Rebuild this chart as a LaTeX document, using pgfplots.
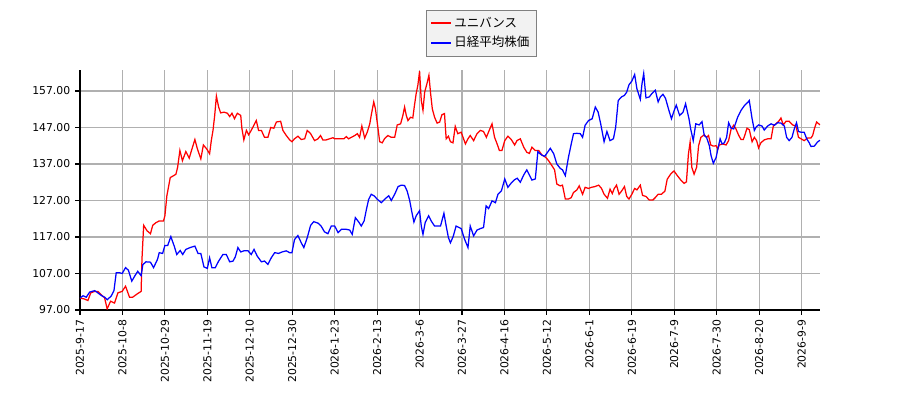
\documentclass[border=0pt]{standalone}
\usepackage{fontspec}
\setmainfont{DejaVu Sans}
\newfontfamily\jp{Noto Sans CJK JP}
\usepackage{pgfplots}
\pgfplotsset{compat=1.18}
\definecolor{gridgray}{HTML}{B0B0B0}
\definecolor{legfill}{HTML}{F2F2F2}
\definecolor{legdraw}{HTML}{808080}

\begin{document}
\begin{tikzpicture}
% 1px = 0.72pt, picture 900x400 px
\path[use as bounding box] (-57.6pt,-64.8pt) rectangle (590.4pt,223.2pt);
\begin{axis}[
  at={(0pt,0pt)}, anchor=south west, scale only axis,
  width=532.8pt, height=172.8pt,
  xmin=0, xmax=261.5, ymin=97, ymax=162.75,
  axis x line*=bottom, axis y line*=left,
  xtick={0,15,...,255},
  xticklabels={2025-9-17,2025-10-8,2025-10-29,2025-11-19,2025-12-10,2025-12-30,2026-1-23,2026-2-13,2026-3-6,2026-3-27,2026-4-16,2026-5-12,2026-6-1,2026-6-19,2026-7-9,2026-7-30,2026-8-20,2026-9-9},
  xticklabel style={rotate=90, anchor=east},
  ytick={97,107,...,157},
  yticklabel style={/pgf/number format/.cd, fixed, fixed zerofill, precision=2},
  /pgf/number format/assume math mode=true,
  tick label style={font=\fontsize{7.8}{9}\selectfont},
  tick align=outside, major tick length=3.5pt,
  tick style={black, line width=0.8pt},
  axis line style={line width=0.8pt},
  grid=major, major grid style={gridgray, line width=0.8pt},
  legend style={at={(0.542,1.058)}, anchor=south, draw=legdraw, fill=legfill,
    font=\fontsize{9}{11}\selectfont, row sep=1pt, inner sep=3pt},
  legend cell align=left,
  legend image code/.code={\draw[#1, line width=1.5pt] (0pt,0pt) -- (14pt,0pt);},
]
\addplot[red, line width=0.9pt] coordinates {
(0,100.3) (1.6,100.0) (2.8,99.6) (3.8,101.7) (5.2,102.1) (6.3,102.1) (7.5,101.2) (8.7,100.3) (9.6,97.3) (10.8,99.4) (12.2,98.9) (13.4,101.7) (14.9,102.1) (16.1,103.5) (17.5,100.5) (18.6,100.5) (20.2,101.4) (21.6,102.1) (21.9,110.9) (22.5,120.2) (23.7,118.7) (24.9,117.9) (25.7,120.2) (26.8,120.9) (28.0,121.4) (29.5,121.4) (30.0,122.8) (30.7,128.3) (31.9,133.3) (33.1,133.8) (33.9,134.2) (34.5,136.1) (35.3,140.7) (36.2,137.9) (37.4,140.4) (38.6,138.6) (39.4,140.7) (40.6,143.7) (41.5,141.1) (42.7,138.4) (43.6,142.2) (44.8,141.1) (45.8,139.8) (46.4,143.4) (47.0,146.2) (47.6,150.3) (48.2,155.6) (48.5,154.4) (49.0,152.6) (49.7,151.0) (50.9,151.2) (52.1,150.9) (52.9,150.0) (53.7,150.9) (54.6,149.4) (55.6,150.9) (56.8,150.3) (57.2,146.8) (57.9,143.6) (58.8,146.2) (59.6,145.0) (60.5,146.2) (61.5,147.7) (62.3,148.9) (63.1,146.2) (64.1,146.2) (65.2,144.3) (66.4,144.3) (67.4,147.0) (68.5,146.8) (69.4,148.5) (70.9,148.7) (71.7,146.2) (72.9,144.8) (74.1,143.6) (74.9,143.1) (75.8,143.9) (77.0,144.6) (78.2,143.7) (79.4,143.9) (80.3,146.2) (81.5,145.3) (82.9,143.4) (84.1,143.9) (85.0,144.8) (85.8,143.6) (87.0,143.6) (88.2,143.9) (89.4,144.2) (90,143.9) (91.8,143.9) (93.3,143.9) (94.1,144.5) (94.9,143.9) (95.9,144.3) (97.1,144.8) (98.0,145.3) (98.8,144.3) (99.6,147.4) (100.6,144.1) (101.5,145.7) (102.4,148.0) (102.9,150.3) (103.8,154.0) (104.4,152.1) (105.1,148.0) (105.9,143.1) (106.8,142.8) (107.6,143.9) (108.8,144.8) (110.0,144.3) (111.2,144.3) (112.1,147.7) (113.3,148.0) (114.1,150.3) (114.7,152.6) (115.3,150.3) (115.9,148.9) (116.8,149.8) (117.6,149.6) (118.2,153.1) (118.8,156.3) (119.4,158.6) (120.0,162.4) (120.6,154.4) (121.2,151.7) (121.8,156.7) (122.6,159.0) (123.3,161.3) (123.9,156.3) (124.5,152.1) (125.3,149.8) (126.2,148.2) (127.1,148.5) (127.9,150.5) (128.8,150.8) (129.4,143.9) (130.2,144.6) (130.9,143.1) (131.8,142.8) (132.6,147.3) (133.5,145.3) (134.7,145.7) (136.2,142.5) (137.1,143.9) (137.9,144.8) (139.1,143.4) (140.3,145.3) (141.5,146.2) (142.6,145.9) (143.6,144.3) (144.6,146.2) (145.6,148.0) (146.5,144.3) (147.4,142.5) (148.2,140.7) (149.1,140.7) (150.1,143.4) (151.2,144.6) (152.4,143.7) (153.6,142.2) (154.4,143.4) (155.6,143.9) (156.8,141.6) (157.9,140.2) (158.8,139.9) (159.7,141.6) (160.9,140.7) (162.1,140.7) (163.2,139.5) (164.6,138.8) (165.6,137.9) (166.8,136.5) (167.7,135.4) (168.5,131.5) (169.7,131.0) (170.5,131.2) (171.5,127.4) (172.6,127.4) (173.6,127.8) (174.4,129.2) (175.6,129.9) (176.4,131.0) (177.6,128.7) (178.5,130.6) (179.7,130.3) (180.7,130.6) (181.9,130.8) (183.3,131.2) (184.3,130.3) (185.2,128.7) (186.4,127.6) (187.3,130.1) (188.1,128.9) (188.8,130.3) (189.6,131.2) (190.5,128.7) (191.4,129.6) (192.4,130.8) (193.2,128.1) (194.0,127.4) (195.0,128.7) (196.0,130.3) (196.8,129.9) (198.0,131.2) (198.8,128.4) (200.0,128.1) (201.2,127.1) (202.4,127.1) (203.3,127.8) (204.3,128.7) (205.5,128.7) (206.7,129.6) (207.5,132.8) (208.7,134.2) (209.9,135.1) (211.1,133.8) (212.3,132.6) (213.5,131.7) (214.3,132.1) (215.0,139.7) (215.6,143.0) (216.2,136.1) (217.0,134.2) (217.9,136.1) (218.6,142.0) (219.4,144.3) (220.6,145.0) (221.4,144.3) (222.1,144.8) (222.9,142.2) (223.8,141.9) (224.8,142.0) (225.4,141.1) (225.9,142.2) (227.1,142.5) (228.3,142.2) (229.2,143.4) (230.1,146.6) (231.0,147.6) (231.8,146.6) (232.8,144.8) (233.6,143.7) (234.4,143.7) (235.1,145.3) (235.7,146.8) (236.5,146.4) (237.5,143.1) (238.3,144.3) (239.1,143.4) (239.8,141.4) (240.6,142.8) (241.8,143.6) (243.0,143.9) (244.2,143.9) (245.0,147.4) (245.9,148.0) (246.9,148.7) (247.7,149.6) (248.5,147.7) (249.5,148.7) (250.6,148.7) (251.8,147.7) (253.0,147.4) (253.9,144.3) (254.8,143.9) (255.9,143.4) (257.1,144.1) (258.3,144.1) (258.9,144.8) (259.5,146.6) (260.3,148.5) (261.5,147.7)
};
\addlegendentry{\jp ユニバンス}
\addplot[blue, line width=0.9pt] coordinates {
(0,100.3) (1.1,100.9) (2.2,100.5) (3.4,101.9) (5.2,102.3) (6.3,101.7) (7.5,101.0) (8.7,100.5) (9.6,99.8) (11.0,100.8) (12.0,102.3) (12.8,107.2) (14.0,107.2) (14.9,107.0) (16.1,108.6) (17.1,107.9) (18.3,104.9) (19.5,106.5) (20.4,107.6) (21.6,106.4) (22.2,109.4) (23.3,110.2) (24.9,110.1) (26.0,108.6) (27.4,110.9) (28.0,112.7) (29.2,112.5) (30.0,114.7) (31.0,114.7) (32.1,117.1) (33.3,114.5) (34.2,112.2) (35.4,113.3) (36.3,112.2) (37.4,113.6) (38.9,114.1) (40.6,114.5) (41.7,112.5) (42.7,112.5) (43.8,108.8) (45.0,108.4) (45.8,111.3) (46.6,108.6) (47.8,108.6) (49.0,110.4) (50.5,112.2) (51.7,112.2) (52.9,110.2) (54.1,110.4) (54.9,111.6) (55.8,114.1) (56.8,112.9) (57.9,113.2) (59.4,113.2) (60.5,112.2) (61.5,113.6) (62.6,111.8) (64.1,110.2) (65.2,110.4) (66.4,109.5) (67.6,111.3) (68.8,112.7) (70.2,112.5) (71.4,112.9) (72.9,113.2) (74.1,112.7) (74.9,112.7) (75.8,116.3) (77.0,117.4) (78.2,115.4) (79.1,114.1) (80.3,116.8) (81.5,120.2) (82.6,121.2) (84.1,120.8) (85.2,120.0) (86.4,118.4) (87.6,117.9) (88.8,120.0) (90.0,120.0) (91.2,118.2) (92.4,119.1) (94.1,119.1) (95.3,118.9) (96.2,117.7) (97.3,122.3) (98.5,121.1) (99.4,120.0) (100.4,121.4) (101.2,124.5) (102.0,127.3) (102.9,128.7) (103.9,128.3) (105.1,127.3) (106.5,126.4) (107.6,127.3) (109.1,128.3) (110.0,127.0) (111.2,128.7) (112.4,130.8) (113.5,131.2) (114.7,131.1) (115.6,129.6) (116.5,127.0) (117.3,123.7) (118.0,121.1) (118.8,122.8) (120.0,124.2) (120.6,120.0) (121.2,117.7) (122.0,121.0) (123.2,122.8) (124.1,121.4) (125.3,120.0) (126.5,120.0) (127.4,120.0) (128.6,123.5) (129.4,120.0) (130.2,116.8) (130.9,115.4) (131.9,117.2) (132.9,120.0) (134.7,119.3) (135.9,116.4) (137.1,114.1) (137.9,120.0) (139.1,117.3) (140.3,118.9) (141.5,119.3) (142.6,119.6) (143.5,125.5) (144.4,124.8) (145.6,126.9) (146.8,126.4) (147.7,128.7) (148.9,129.6) (150.1,132.9) (151.2,130.6) (152.4,131.8) (153.6,132.7) (154.5,133.1) (155.6,132.0) (156.8,134.0) (157.9,135.4) (158.8,134.0) (159.7,132.6) (160.9,132.9) (161.8,140.4) (163.0,139.5) (164.2,139.1) (165.4,140.4) (166.2,141.3) (167.4,139.8) (168.5,137.0) (169.7,135.8) (170.5,135.4) (171.5,133.8) (172.6,138.8) (173.6,142.5) (174.4,145.3) (175.6,145.4) (176.8,145.3) (177.6,144.3) (178.5,147.6) (179.7,148.9) (181.0,149.4) (182.1,152.6) (183.1,151.2) (184.0,148.0) (185.2,143.1) (186.2,145.9) (187.3,143.4) (188.5,143.9) (189.3,147.1) (190.2,154.4) (191.4,155.4) (192.4,155.8) (193.2,156.7) (194.0,158.7) (195.0,159.7) (196.0,161.5) (196.8,157.6) (198.0,154.7) (198.6,159.0) (199.2,161.8) (200.0,155.1) (201.2,155.4) (202.1,156.3) (203.3,157.2) (204.3,154.0) (205.1,155.4) (206.0,156.1) (206.9,155.0) (208.1,151.7) (209.0,149.4) (209.9,151.5) (210.7,153.1) (211.9,150.3) (213.1,151.2) (214.0,153.5) (215.2,149.4) (215.8,146.6) (216.7,143.4) (217.6,148.0) (218.8,147.7) (219.8,148.6) (220.6,144.8) (221.4,144.3) (222.4,142.0) (223.0,139.3) (223.8,137.2) (224.8,138.8) (225.4,141.1) (226.2,143.9) (226.9,142.5) (227.7,142.8) (228.5,144.3) (229.2,148.3) (230.1,146.8) (231.0,146.6) (231.6,148.0) (232.4,149.8) (233.6,151.7) (234.8,153.0) (236.0,153.9) (236.5,154.4) (237.5,149.4) (238.3,146.2) (238.9,147.1) (239.8,147.7) (241.0,147.4) (241.8,146.3) (243.0,147.4) (244.2,148.0) (245.4,147.6) (246.5,148.3) (247.7,148.2) (248.9,147.4) (249.7,144.3) (250.6,143.4) (251.6,144.3) (252.4,146.6) (253.2,148.3) (253.9,145.9) (254.8,145.7) (255.9,145.7) (256.8,143.9) (257.7,142.8) (258.3,141.8) (259.5,141.9) (260.6,143.0) (261.5,143.5)
};
\addlegendentry{\jp 日経平均株価}
\end{axis}
\end{tikzpicture}
\end{document}
